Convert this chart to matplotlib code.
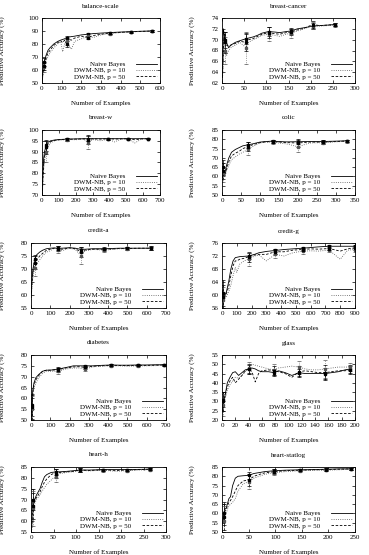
import matplotlib
matplotlib.use("Agg")
import matplotlib.pyplot as plt

plt.rcParams['font.family'] = ['Liberation Serif', 'DejaVu Serif']
plt.rcParams['font.size'] = 5

# balance-scale
bal_x = [1, 5, 10, 12, 20, 30, 40, 60, 80, 95, 105, 115, 125, 135, 150, 165, 200, 235, 260, 300, 345, 400, 455, 500, 560]
bal_nb = [52, 60, 65, 66, 71, 75, 77, 80, 82, 83, 83.5, 84, 85, 85.3, 85.7, 86, 87, 87.5, 88, 88.4, 88.8, 89.2, 89.5, 89.8, 90]
bal_p10 = [51, 56, 61, 62, 67, 70, 73, 77, 80, 82, 74, 80, 82, 79, 76, 82, 84, 86, 85, 87, 88, 88.8, 89.3, 89.6, 90]
bal_p50 = [52, 58, 62, 63, 69, 73, 75, 79, 81, 82.5, 81, 83, 80, 83.5, 83, 84.5, 86, 85, 86.5, 87.5, 88.5, 89, 89.4, 89.7, 90]
bal_ex = [12, 125, 235, 345, 455, 560]
bal_enb = [3, 1.2, 1, 0.8, 0.6, 0.5]
bal_e10 = [3.5, 2.5, 1.5, 1, 0.7, 0.5]
bal_e50 = [3, 2, 1.2, 0.9, 0.6, 0.5]

# breast-cancer
bc_x = [1, 3, 5, 7, 10, 15, 20, 30, 40, 55, 60, 70, 80, 90, 105, 120, 130, 145, 155, 170, 185, 205, 220, 240, 255]
bc_nb = [63, 72, 71, 70, 69.5, 68.5, 69, 69.5, 69.8, 70.2, 70.3, 70.5, 70.8, 71.2, 71.5, 71.4, 71.3, 71.5, 71.6, 72, 72.2, 72.5, 72.6, 72.7, 72.8]
bc_p10 = [62.5, 66, 70, 68, 67, 68, 68.5, 69, 69.5, 68.5, 69.5, 70, 70.3, 70.8, 71, 70.8, 70.6, 71, 71.2, 71.6, 72, 72.6, 72.5, 72.6, 72.7]
bc_p50 = [63, 68, 71, 69.5, 69, 68.8, 69, 69.3, 69.7, 69.5, 70, 70.2, 70.6, 71, 71.3, 71.1, 71, 71.3, 71.4, 71.8, 72.1, 72.8, 72.6, 72.7, 72.8]
bc_ex = [7, 55, 105, 155, 205, 255]
bc_enb = [1.5, 1, 0.8, 0.5, 0.5, 0.3]
bc_e10 = [2.5, 3, 1.3, 0.8, 0.7, 0.3]
bc_e50 = [2, 1.5, 1, 0.6, 0.6, 0.3]

# breast-w
bw_x = [1, 3, 5, 10, 15, 25, 35, 50, 75, 100, 150, 200, 250, 270, 300, 350, 390, 430, 470, 510, 550, 590, 629]
bw_nb = [70, 75, 80, 87, 90, 93, 94.3, 95, 95.4, 95.6, 95.8, 95.9, 96, 96, 96, 96, 96, 96, 96, 96, 96, 96, 96]
bw_p10 = [70, 72, 75, 82, 86, 90, 92, 94, 95, 95.3, 95.6, 95.5, 95.8, 94, 95.6, 95, 95.9, 94.5, 95.8, 95.9, 94, 95.8, 96]
bw_p50 = [70, 73, 77, 84, 88, 92, 93.5, 94.6, 95.2, 95.5, 95.7, 95.8, 95.9, 95.5, 95.9, 95.8, 96, 95.8, 95.9, 96, 95.5, 95.9, 96]
bw_ex = [25, 150, 270, 390, 510, 629]
bw_enb = [2.5, 0.5, 1, 0.3, 0.3, 0.2]
bw_e10 = [5, 0.8, 3, 0.5, 0.4, 0.2]
bw_e50 = [3, 0.6, 2, 0.4, 0.3, 0.2]

# colic
co_x = [1, 2, 5, 8, 12, 18, 25, 35, 45, 55, 68, 80, 100, 115, 133, 150, 170, 200, 230, 265, 300, 330]
co_nb = [60, 65, 63, 62, 66, 70, 73, 74.5, 75.5, 76.5, 77, 77.5, 78.5, 78.8, 79, 78.8, 78.6, 78.7, 78.8, 78.8, 79, 79.2]
co_p10 = [58, 62, 60, 60, 63, 66, 69, 70.5, 72, 73, 74.5, 76, 78, 78.5, 78.5, 78, 77.5, 76, 78, 78.2, 78.6, 79]
co_p50 = [59, 63, 61, 61, 64, 68, 71, 72.5, 73.5, 75, 76, 77, 78.2, 78.6, 78.8, 78.5, 78.2, 78, 78.5, 78.5, 78.8, 79.1]
co_ex = [2, 68, 133, 200, 265, 330]
co_enb = [4, 1.5, 0.8, 1, 0.8, 0.6]
co_e10 = [5, 3, 1, 3, 1, 0.8]
co_e50 = [4.5, 2.5, 0.9, 2, 0.9, 0.7]

# credit-a
ca_x = [1, 5, 10, 20, 30, 45, 60, 80, 100, 120, 140, 160, 200, 230, 260, 280, 320, 380, 420, 460, 500, 560, 620]
ca_nb = [60, 66, 70, 74, 75.5, 76.5, 77.2, 77.8, 78, 78.1, 78, 78, 78.2, 78, 77.5, 77.6, 77.8, 77.8, 77.9, 78, 78, 78, 78]
ca_p10 = [58, 63, 67, 70.5, 72, 73.5, 75, 76.5, 77, 78, 77.5, 77, 78, 77.5, 75, 77, 77.5, 77.3, 77.5, 77.8, 77.8, 77.9, 78]
ca_p50 = [59, 64.5, 68.5, 72.5, 73.5, 75, 76, 77.2, 77.6, 78, 77.8, 77.6, 78.1, 77.8, 76.5, 77.3, 77.6, 77.6, 77.7, 77.9, 77.9, 78, 78]
ca_ex = [20, 140, 260, 380, 500, 620]
ca_enb = [1.5, 0.8, 1, 0.5, 0.4, 0.6]
ca_e10 = [3, 1.2, 3, 0.8, 0.5, 0.8]
ca_e50 = [2.5, 1, 2, 0.6, 0.5, 0.7]

# credit-g
cg_x = [1, 5, 10, 20, 30, 45, 60, 75, 90, 100, 120, 150, 180, 220, 250, 300, 360, 420, 480, 545, 600, 650, 725, 800, 850, 900]
cg_nb = [61.5, 60.5, 60, 60, 61, 64, 68, 70.5, 71.5, 71.6, 71.8, 71.9, 72, 72.5, 73, 73.4, 73.7, 74, 74.2, 74.4, 74.6, 74.8, 75, 75, 75, 75]
cg_p10 = [58, 58.5, 58.5, 59, 59.5, 61, 63, 66, 68.5, 67, 69.5, 70.5, 71, 72, 72.3, 70.5, 72.5, 72, 73, 73.5, 73.6, 73.5, 73.8, 71, 73.8, 74]
cg_p50 = [60, 59.5, 59, 59.5, 60.5, 62.5, 66, 69, 70.5, 70.5, 71, 71.3, 71.8, 72.3, 72.5, 72.5, 73.3, 73.3, 73.8, 74, 74.2, 74.1, 74.3, 73.5, 74.2, 74.5]
cg_ex = [5, 180, 360, 545, 725, 900]
cg_enb = [4, 0.8, 0.6, 0.5, 0.4, 0.4]
cg_e10 = [4, 2, 1, 0.8, 0.7, 0.8]
cg_e50 = [3.5, 1.5, 0.8, 0.6, 0.6, 0.6]

# diabetes
di_x = [1, 3, 5, 10, 15, 25, 40, 60, 80, 100, 140, 180, 220, 250, 280, 320, 360, 415, 460, 500, 555, 600, 650, 690]
di_nb = [52, 57, 60, 64, 67, 69.5, 71, 72.5, 73, 73, 73.5, 74.2, 75, 75, 75, 75, 75.2, 75.4, 75.3, 75.3, 75.4, 75.4, 75.5, 75.5]
di_p10 = [51, 55, 58, 62, 64.5, 67, 69.5, 71.5, 72.5, 72.5, 72.5, 73.5, 74, 74, 73.5, 74.5, 74.8, 75, 75, 74.8, 75, 75, 75.1, 75.2]
di_p50 = [51.5, 56, 59, 63, 66, 68.5, 70.5, 72.5, 73, 73, 73.2, 74, 74.5, 74.6, 74.3, 74.8, 75, 75.2, 75.2, 75.1, 75.2, 75.2, 75.3, 75.4]
di_ex = [3, 140, 280, 415, 555, 690]
di_enb = [5, 0.8, 0.6, 0.4, 0.4, 0.3]
di_e10 = [6, 1.2, 1, 0.5, 0.5, 0.4]
di_e50 = [5.5, 1, 0.8, 0.5, 0.4, 0.3]

# glass
gl_x = [1, 2, 4, 6, 8, 12, 16, 20, 25, 30, 35, 40, 45, 50, 55, 60, 70, 78, 85, 95, 105, 116, 125, 135, 145, 155, 165, 175, 185, 193]
gl_nb = [25, 31, 32, 36, 40, 43, 45.5, 46, 44, 45.5, 47, 47.5, 48, 47.5, 46.5, 46, 46, 45.5, 46.5, 45.5, 44, 45.5, 45, 45, 45, 45, 45.5, 46, 47, 47.5]
gl_p10 = [24, 28, 31, 33, 36, 39, 41, 43, 42.5, 44, 46, 48, 50, 49.5, 49, 48.5, 47.5, 47, 48, 48.5, 49, 48.5, 47.5, 47, 47, 47.5, 48, 48.5, 48.5, 48.5]
gl_p50 = [25, 30, 32, 35, 38, 41, 43, 40, 42, 44, 46.5, 47.5, 46, 40.5, 45, 46.5, 47, 46.5, 46, 45, 43, 46, 46.5, 46, 45.5, 45.5, 46, 46.5, 46.5, 47]
gl_ex = [2, 40, 78, 116, 155, 193]
gl_enb = [4, 2, 2, 2, 3, 2]
gl_e10 = [6, 3, 3, 3.5, 5, 2]
gl_e50 = [5, 2.5, 2.5, 3, 4, 2]

# heart-h
hh_x = [1, 2, 3, 5, 8, 12, 16, 20, 25, 30, 35, 40, 45, 50, 55, 65, 80, 95, 108, 130, 160, 190, 213, 240, 265]
hh_nb = [55, 60, 70, 70, 70, 72, 73.5, 75, 78, 80.5, 81.5, 82, 82.5, 82.6, 82.7, 82.8, 83, 83.3, 83.6, 83.6, 83.8, 83.8, 83.8, 83.9, 84]
hh_p10 = [55, 57, 62, 66, 68, 70, 71, 72, 74, 75.5, 77, 78, 79, 80, 80.5, 82, 82.5, 82.8, 83.5, 83.2, 83.5, 83, 83.3, 83.6, 83.8]
hh_p50 = [55, 58, 64, 67, 69, 71, 72, 73.5, 76, 78, 79.5, 80.5, 81.5, 82, 82, 82.5, 82.8, 83, 83.6, 83.4, 83.7, 83.4, 83.6, 83.8, 84]
hh_ex = [5, 55, 108, 160, 213, 265]
hh_enb = [5, 1.5, 0.8, 0.5, 0.5, 0.4]
hh_e10 = [8, 2.5, 1, 0.7, 0.8, 0.5]
hh_e50 = [6, 2, 0.9, 0.6, 0.6, 0.5]

# heart-statlog
hs_x = [1, 3, 5, 8, 10, 13, 16, 20, 25, 30, 40, 50, 60, 70, 80, 98, 120, 147, 170, 195, 220, 243]
hs_nb = [55, 60, 62, 63, 65, 68, 69, 75, 79, 80, 80.3, 80.5, 81.5, 82, 82.5, 83, 83.3, 83.5, 83.6, 83.8, 84, 84]
hs_p10 = [52, 56, 58, 60, 62, 64, 65, 66, 68, 72, 76, 77, 79, 80, 81, 82, 82.5, 83, 83.2, 83.3, 83.5, 83.8]
hs_p50 = [54, 58, 61, 62, 64, 66, 67, 69, 72, 75, 77.5, 78, 80, 81, 81.8, 82.5, 83, 83.3, 83.5, 83.6, 83.8, 84]
hs_ex = [3, 50, 98, 147, 195, 243]
hs_enb = [6, 2, 1, 0.6, 0.5, 0.4]
hs_e10 = [8, 4, 1.5, 0.8, 0.6, 0.5]
hs_e50 = [7, 3, 1.2, 0.7, 0.6, 0.5]

panels = [
    ("balance-scale", bal_x, bal_nb, bal_p10, bal_p50, bal_ex, bal_enb, bal_e10, bal_e50, (0, 600, 100), (50, 100, 10)),
    ("breast-cancer", bc_x, bc_nb, bc_p10, bc_p50, bc_ex, bc_enb, bc_e10, bc_e50, (0, 300, 50), (62, 74, 2)),
    ("breast-w", bw_x, bw_nb, bw_p10, bw_p50, bw_ex, bw_enb, bw_e10, bw_e50, (0, 700, 100), (70, 100, 5)),
    ("colic", co_x, co_nb, co_p10, co_p50, co_ex, co_enb, co_e10, co_e50, (0, 350, 50), (50, 85, 5)),
    ("credit-a", ca_x, ca_nb, ca_p10, ca_p50, ca_ex, ca_enb, ca_e10, ca_e50, (0, 700, 100), (55, 80, 5)),
    ("credit-g", cg_x, cg_nb, cg_p10, cg_p50, cg_ex, cg_enb, cg_e10, cg_e50, (0, 900, 100), (56, 76, 4)),
    ("diabetes", di_x, di_nb, di_p10, di_p50, di_ex, di_enb, di_e10, di_e50, (0, 700, 100), (50, 80, 5)),
    ("glass", gl_x, gl_nb, gl_p10, gl_p50, gl_ex, gl_enb, gl_e10, gl_e50, (0, 200, 20), (20, 55, 5)),
    ("heart-h", hh_x, hh_nb, hh_p10, hh_p50, hh_ex, hh_enb, hh_e10, hh_e50, (0, 300, 50), (55, 85, 5)),
    ("heart-statlog", hs_x, hs_nb, hs_p10, hs_p50, hs_ex, hs_enb, hs_e10, hs_e50, (0, 250, 50), (50, 85, 5)),
]

W, H = 369.0, 555.0
row_top = [18, 130, 243, 355, 467]
box_h = 65

styles = [("Naive Bayes", "-", "black"),
          ("DWM-NB, p = 10", ":", "#555555"),
          ("DWM-NB, p = 50", (0, (3, 2)), "black")]


def frame_box(i, ymax):
    # gnuplot pushes the frame right when tick labels have three digits
    if i % 2 == 1:
        return 222, 355
    if ymax >= 100:
        return 42, 160
    return 31, 166


def draw_errors(ax, x, y, ex, err, ls, color):
    ys = [y[x.index(v)] for v in ex]
    eb = ax.errorbar(ex, ys, yerr=err, fmt="s", ms=1.4, color=color,
                     elinewidth=0.5, capsize=1.2, capthick=0.5)
    eb[2][0].set_linestyle(ls)


fig = plt.figure(figsize=(3.69, 5.55), dpi=100)

for i, p in enumerate(panels):
    name, x, nb, p10, p50, ex, enb, e10, e50, xr, yr = p
    r = i // 2
    left, right = frame_box(i, yr[1])
    ax = fig.add_axes([left / W, 1 - (row_top[r] + box_h) / H, (right - left) / W, box_h / H])

    for (lab, ls, colr), y, err in zip(styles, [nb, p10, p50], [enb, e10, e50]):
        ax.plot(x, y, linestyle=ls, color=colr, lw=0.6, label=lab)
        draw_errors(ax, x, y, ex, err, ls, colr)

    ax.set_xlim(xr[0], xr[1])
    ax.set_ylim(yr[0], yr[1])
    ax.set_xticks(range(xr[0], xr[1] + 1, xr[2]))
    ax.set_yticks(range(yr[0], yr[1] + 1, yr[2]))
    ax.tick_params(direction="in", length=2.5, width=0.5, top=True, right=True, labelsize=5, pad=2.5)
    for s in ax.spines.values():
        s.set_linewidth(0.6)
    ax.set_title(name, fontsize=5, y=1 + 10.5 / box_h, pad=0)
    ax.set_xlabel("Number of Examples", fontsize=5)
    ax.xaxis.set_label_coords(0.5, -17.0 / box_h)
    ax.set_ylabel("Predictive Accuracy (%)", fontsize=5)
    ax.yaxis.set_label_coords(-(left - (5 if i % 2 == 0 else 195)) / float(right - left), 0.5)
    ax.legend(loc="lower right", frameon=False, fontsize=5, markerfirst=False,
              handlelength=3.0, handletextpad=1.5, labelspacing=0.05,
              borderaxespad=0.3, borderpad=0.2)

fig.savefig("out.png", dpi=100)
